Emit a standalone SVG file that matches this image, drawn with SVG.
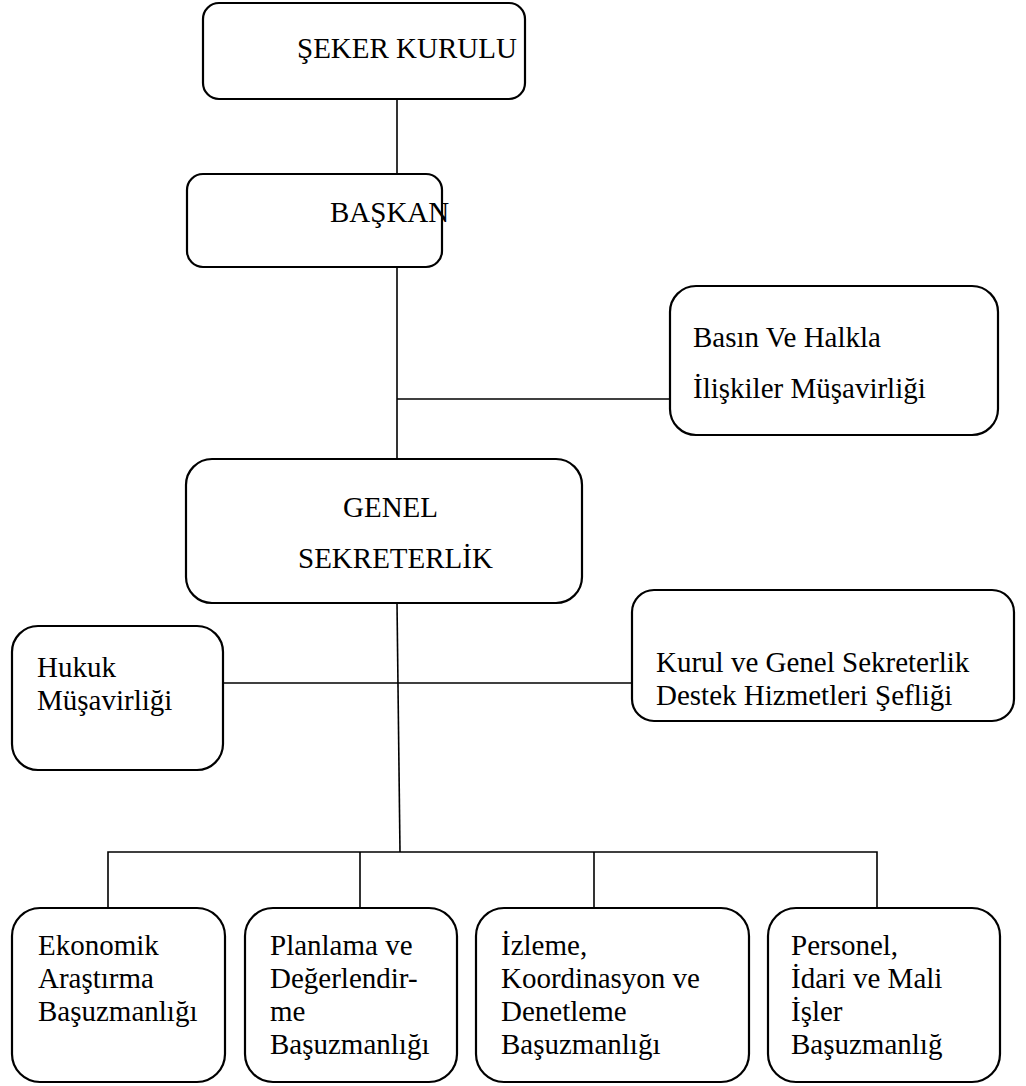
<svg xmlns="http://www.w3.org/2000/svg" width="1026" height="1086" viewBox="0 0 1026 1086">
<style>
.box{fill:#fff;stroke:#000;stroke-width:2.2}
.ln{stroke:#000;stroke-width:1.6;fill:none}
text{font-family:"Liberation Serif","Times New Roman",serif;font-size:29px;fill:#000}
</style>
<rect width="1026" height="1086" fill="#fff"/>
<g id="connectors">
<line class="ln" x1="397" y1="99" x2="397" y2="174"/>
<line class="ln" x1="397" y1="267" x2="397" y2="460"/>
<line class="ln" x1="397" y1="399" x2="670" y2="399"/>
<line class="ln" x1="397" y1="603" x2="400" y2="852"/>
<line class="ln" x1="223" y1="683" x2="632" y2="683"/>
<polyline class="ln" points="108,908 108,852 877,852 877,908"/>
<line class="ln" x1="360" y1="852" x2="360" y2="908"/>
<line class="ln" x1="594" y1="852" x2="594" y2="908"/>
</g>
<g id="seker-kurulu">
<rect class="box" x="203" y="3" width="322" height="96" rx="16"/>
<text x="297" y="58">ŞEKER KURULU</text>
</g>
<g id="baskan">
<rect class="box" x="187" y="174" width="255" height="93" rx="16"/>
<text x="330" y="222">BAŞKAN</text>
</g>
<g id="basin">
<rect class="box" x="670" y="286" width="328" height="149" rx="26"/>
<text x="693" y="347">Basın Ve Halkla</text>
<text x="693" y="398">İlişkiler Müşavirliği</text>
</g>
<g id="genel-sekreterlik">
<rect class="box" x="186" y="459" width="396" height="144" rx="26"/>
<text x="343" y="517">GENEL</text>
<text x="298" y="568">SEKRETERLİK</text>
</g>
<g id="hukuk">
<rect class="box" x="12" y="626" width="211" height="144" rx="26"/>
<text x="37" y="677">Hukuk</text>
<text x="37" y="710">Müşavirliği</text>
</g>
<g id="kurul-destek">
<rect class="box" x="632" y="590" width="382" height="131" rx="22"/>
<text x="656" y="672">Kurul ve Genel Sekreterlik</text>
<text x="656" y="705">Destek Hizmetleri Şefliği</text>
</g>
<g id="ekonomik">
<rect class="box" x="12" y="908" width="213" height="174" rx="28"/>
<text x="38" y="955">Ekonomik</text>
<text x="38" y="988">Araştırma</text>
<text x="38" y="1021">Başuzmanlığı</text>
</g>
<g id="planlama">
<rect class="box" x="245" y="908" width="212" height="174" rx="28"/>
<text x="270" y="955">Planlama ve</text>
<text x="270" y="988">Değerlendir-</text>
<text x="270" y="1021">me</text>
<text x="270" y="1054">Başuzmanlığı</text>
</g>
<g id="izleme">
<rect class="box" x="476" y="908" width="273" height="174" rx="28"/>
<text x="501" y="955">İzleme,</text>
<text x="501" y="988">Koordinasyon ve</text>
<text x="501" y="1021">Denetleme</text>
<text x="501" y="1054">Başuzmanlığı</text>
</g>
<g id="personel">
<rect class="box" x="768" y="908" width="232" height="174" rx="28"/>
<text x="791" y="955">Personel,</text>
<text x="791" y="988">İdari ve Mali</text>
<text x="791" y="1021">İşler</text>
<text x="791" y="1054">Başuzmanlığ</text>
</g>
</svg>
